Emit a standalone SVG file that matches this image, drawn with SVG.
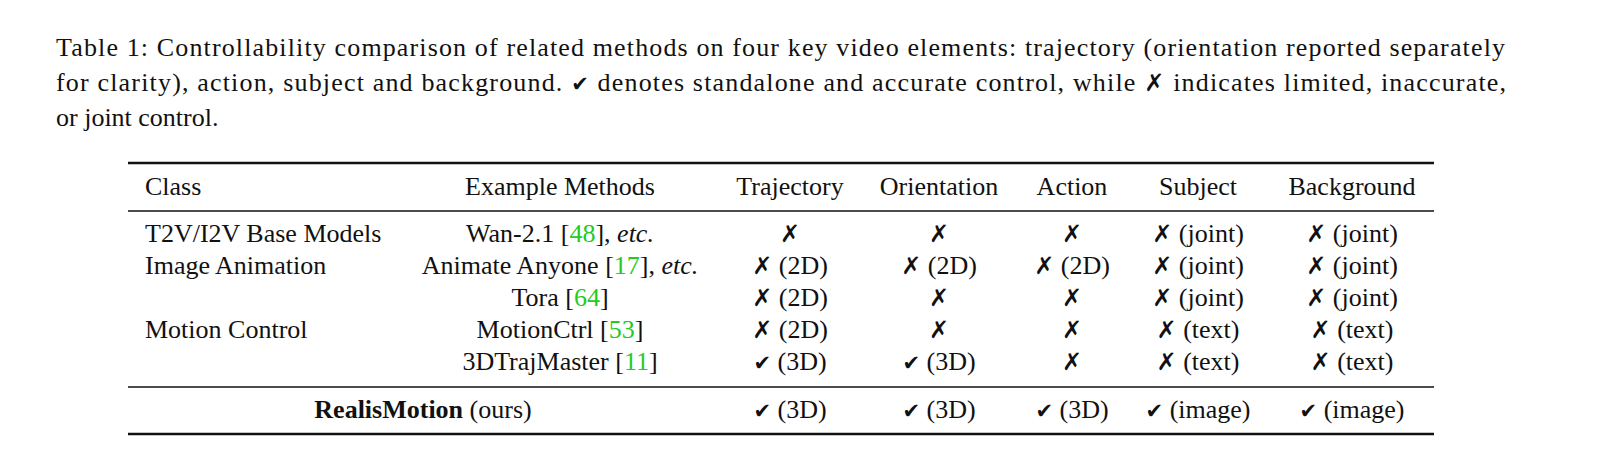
<svg xmlns="http://www.w3.org/2000/svg" width="1604" height="464" viewBox="0 0 1604 464">
<style>
text{font-family:"Liberation Serif","Times New Roman",serif;font-size:26px;fill:#111}
.m{text-anchor:middle}
.s{font-family:"DejaVu Sans",sans-serif;font-size:24px;font-weight:bold}
.c{font-family:"DejaVu Sans",sans-serif;font-size:21px}
.g{fill:#22cc22}
.r{stroke:#111}
</style>
<rect width="1604" height="464" fill="#fff"/>
<text x="56" y="56" textLength="1449" lengthAdjust="spacing">Table 1: Controllability comparison of related methods on four key video elements: trajectory (orientation reported separately</text>
<text x="56" y="91" textLength="1450" lengthAdjust="spacing">for clarity), action, subject and background. <tspan class="c">✔</tspan> denotes standalone and accurate control, while <tspan class="s">✗</tspan> indicates limited, inaccurate,</text>
<text x="56" y="126">or joint control.</text>
<line class="r" x1="128" y1="163" x2="1434" y2="163" stroke-width="2.5"/>
<line class="r" x1="128" y1="211" x2="1434" y2="211" stroke-width="1.5"/>
<line class="r" x1="128" y1="387" x2="1434" y2="387" stroke-width="1.5"/>
<line class="r" x1="128" y1="434" x2="1434" y2="434" stroke-width="2.5"/>
<text x="145" y="195">Class</text>
<text class="m" x="560" y="195">Example Methods</text>
<text class="m" x="790" y="195">Trajectory</text>
<text class="m" x="939" y="195">Orientation</text>
<text class="m" x="1072" y="195">Action</text>
<text class="m" x="1198" y="195">Subject</text>
<text class="m" x="1352" y="195">Background</text>

<text x="145" y="242">T2V/I2V Base Models</text>
<text class="m" x="560" y="242">Wan-2.1 [<tspan class="g">48</tspan>], <tspan font-style="italic">etc.</tspan></text>
<text class="m s" x="790" y="242">✗</text>
<text class="m s" x="939" y="242">✗</text>
<text class="m s" x="1072" y="242">✗</text>
<text class="m" x="1198" y="242"><tspan class="s">✗</tspan> (joint)</text>
<text class="m" x="1352" y="242"><tspan class="s">✗</tspan> (joint)</text>

<text x="145" y="274">Image Animation</text>
<text class="m" x="560" y="274">Animate Anyone [<tspan class="g">17</tspan>], <tspan font-style="italic">etc.</tspan></text>
<text class="m" x="790" y="274"><tspan class="s">✗</tspan> (2D)</text>
<text class="m" x="939" y="274"><tspan class="s">✗</tspan> (2D)</text>
<text class="m" x="1072" y="274"><tspan class="s">✗</tspan> (2D)</text>
<text class="m" x="1198" y="274"><tspan class="s">✗</tspan> (joint)</text>
<text class="m" x="1352" y="274"><tspan class="s">✗</tspan> (joint)</text>

<text class="m" x="560" y="306">Tora [<tspan class="g">64</tspan>]</text>
<text class="m" x="790" y="306"><tspan class="s">✗</tspan> (2D)</text>
<text class="m s" x="939" y="306">✗</text>
<text class="m s" x="1072" y="306">✗</text>
<text class="m" x="1198" y="306"><tspan class="s">✗</tspan> (joint)</text>
<text class="m" x="1352" y="306"><tspan class="s">✗</tspan> (joint)</text>

<text x="145" y="338">Motion Control</text>
<text class="m" x="560" y="338">MotionCtrl [<tspan class="g">53</tspan>]</text>
<text class="m" x="790" y="338"><tspan class="s">✗</tspan> (2D)</text>
<text class="m s" x="939" y="338">✗</text>
<text class="m s" x="1072" y="338">✗</text>
<text class="m" x="1198" y="338"><tspan class="s">✗</tspan> (text)</text>
<text class="m" x="1352" y="338"><tspan class="s">✗</tspan> (text)</text>

<text class="m" x="560" y="370">3DTrajMaster [<tspan class="g">11</tspan>]</text>
<text class="m" x="790" y="370"><tspan class="c">✔</tspan> (3D)</text>
<text class="m" x="939" y="370"><tspan class="c">✔</tspan> (3D)</text>
<text class="m s" x="1072" y="370">✗</text>
<text class="m" x="1198" y="370"><tspan class="s">✗</tspan> (text)</text>
<text class="m" x="1352" y="370"><tspan class="s">✗</tspan> (text)</text>

<text class="m" x="423" y="418"><tspan font-weight="bold">RealisMotion</tspan> (ours)</text>
<text class="m" x="790" y="418"><tspan class="c">✔</tspan> (3D)</text>
<text class="m" x="939" y="418"><tspan class="c">✔</tspan> (3D)</text>
<text class="m" x="1072" y="418"><tspan class="c">✔</tspan> (3D)</text>
<text class="m" x="1198" y="418"><tspan class="c">✔</tspan> (image)</text>
<text class="m" x="1352" y="418"><tspan class="c">✔</tspan> (image)</text>
</svg>
